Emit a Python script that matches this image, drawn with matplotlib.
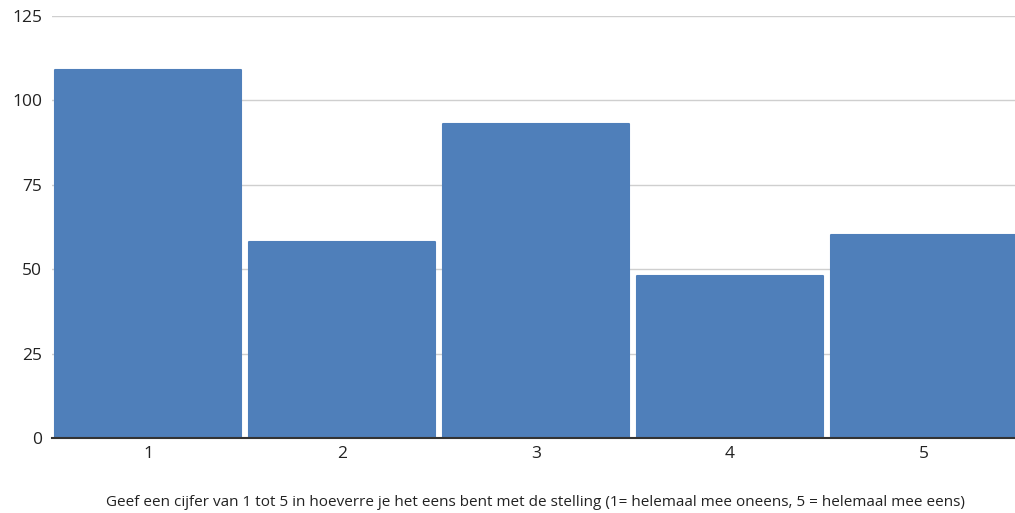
import matplotlib.pyplot as plt

# scores 1..5 and how many people picked each
scores = [1, 2, 3, 4, 5]
counts = [109, 58, 93, 48, 60]
tick_labels = ['1', '2', '3', '4', '5']
yticks = [0, 25, 50, 75, 100, 125]
xlabel = ('Geef een cijfer van 1 tot 5 in hoeverre je het eens bent met de stelling '
          '(1= helemaal mee oneens, 5 = helemaal mee eens)')

plt.rcParams['font.family'] = ['Open Sans', 'DejaVu Sans']

fig = plt.figure(figsize=(10.15, 5.13), dpi=100)
ax = fig.add_axes([52 / 1015, 75 / 513, 1 - 52 / 1015, 422 / 513])

bar_color = '#4f7fba'
ax.bar(scores, counts, width=0.955, color=bar_color, edgecolor=bar_color,
       linewidth=1.5, joinstyle='round', zorder=2)

ax.set_xlim(0.505, 5.469)
ax.set_ylim(0, 125)
ax.set_yticks(yticks)
ax.set_xticks(scores)
ax.set_xticklabels(tick_labels)

ax.grid(axis='y', color='#cfcfcf', linewidth=1, zorder=0)
ax.set_axisbelow(True)
for side in ['top', 'right', 'left']:
    ax.spines[side].set_visible(False)
ax.spines['bottom'].set_color('#333333')
ax.spines['bottom'].set_linewidth(1.5)
ax.spines['bottom'].set_zorder(3)

ax.tick_params(axis='both', length=0, labelsize=12.5, colors='#222222')
ax.tick_params(axis='y', pad=7)
ax.tick_params(axis='x', pad=6)

# axis title sits near the bottom edge of the figure
fig.text(535 / 1015, 10 / 513, xlabel, fontsize=11.0, color='#222222',
         ha='center', va='center')

fig.savefig('out.png', dpi=100)
